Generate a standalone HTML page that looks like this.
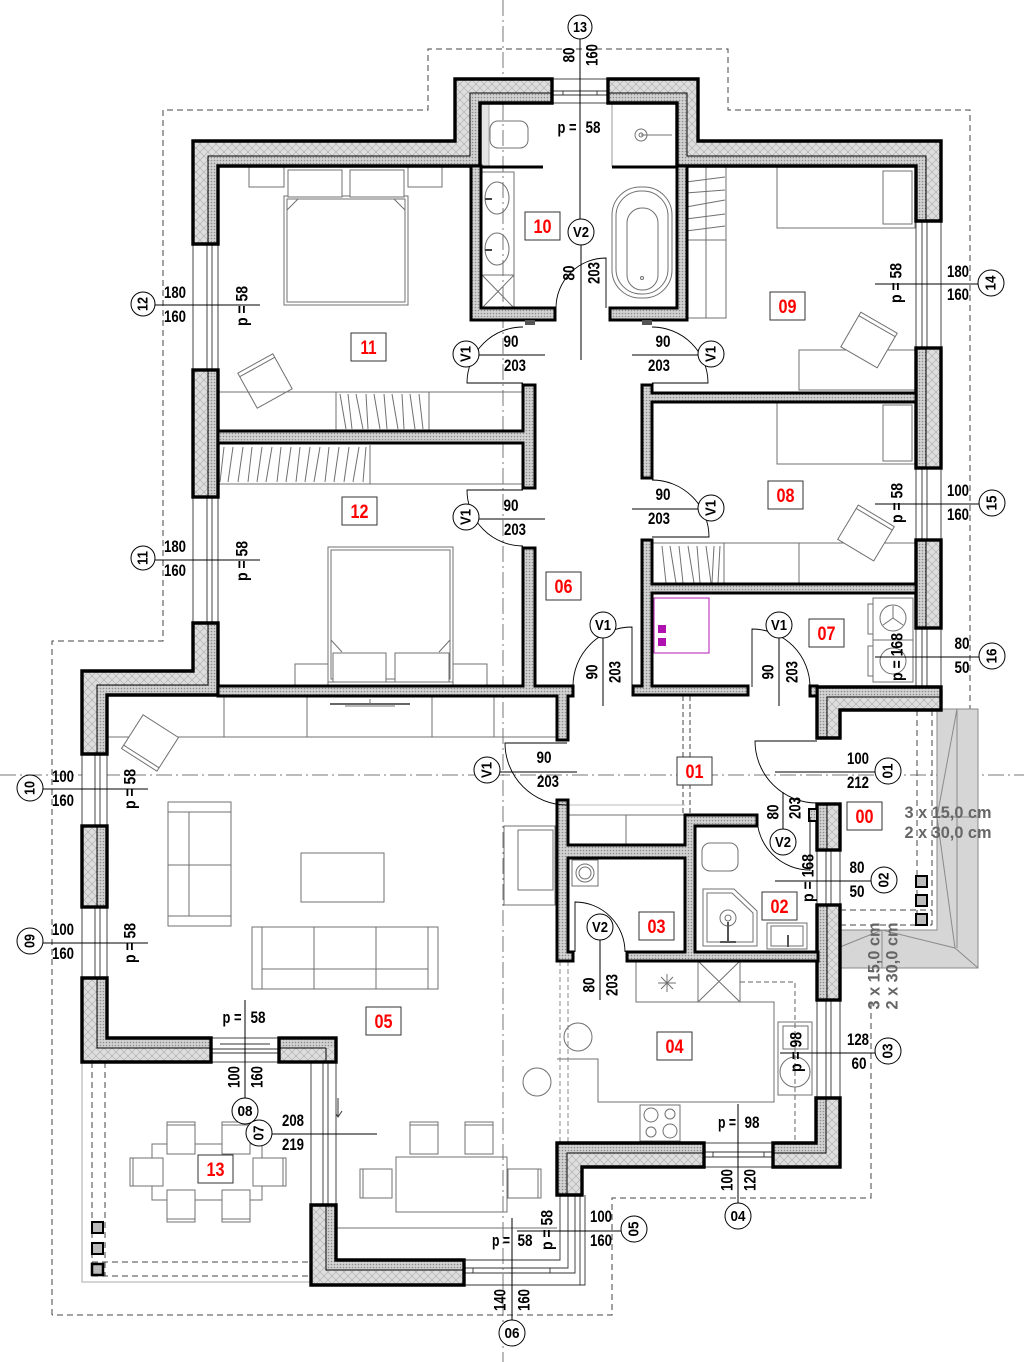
<!DOCTYPE html>
<html><head><meta charset="utf-8"><style>
html,body{margin:0;padding:0;background:#fff;}
svg{display:block}
text{font-family:"Liberation Sans Narrow","Liberation Sans",Arial,sans-serif;text-anchor:middle;}
.t{font-size:17px;fill:#000;font-weight:bold;}
.c{font-size:15px;fill:#000;font-weight:bold;}
.r{font-size:19px;fill:#ff0000;font-family:"Liberation Sans",Arial,sans-serif;font-weight:bold;}
.g{font-size:17px;fill:#666;font-family:"Liberation Sans",Arial,sans-serif;font-weight:bold;}
.f{fill:none;stroke:#707070;stroke-width:1;}
.fw{fill:#fff;stroke:#707070;stroke-width:1;}
.ln{stroke:#000;stroke-width:1;fill:none;}
.dl{fill:none;stroke:#444;stroke-width:1;stroke-dasharray:6 4;}
.ax{stroke:#777;stroke-width:1;stroke-dasharray:16 4 2 4;fill:none;}
.wo{fill:none;stroke:#000;stroke-width:3.4;stroke-linejoin:miter;}
.wm{fill:none;stroke:#000;stroke-width:1;}
.iw{fill:url(#dot);stroke:#000;stroke-width:3;stroke-linejoin:miter;}
.win{fill:#fff;stroke:#333;stroke-width:0.9;}
.wl{stroke:#333;stroke-width:0.9;}
.cir{fill:#fff;stroke:#000;stroke-width:1;}
.lb{fill:#fff;stroke:#333;stroke-width:1;}
.dr{fill:none;stroke:#000;stroke-width:0.9;}
</style></head><body>
<svg width="1024" height="1362" viewBox="0 0 1024 1362" xmlns="http://www.w3.org/2000/svg">
<defs>
<pattern id="ins" width="8" height="8" patternUnits="userSpaceOnUse">
<rect width="8" height="8" fill="#dedede"/>
<path d="M0 0L8 8M8 0L0 8" stroke="#a9a9a9" stroke-width="0.6"/>
</pattern>
<pattern id="dot" width="3" height="3" patternUnits="userSpaceOnUse">
<rect width="3" height="3" fill="#d2d2d2"/>
<circle cx="1.5" cy="1.5" r="0.8" fill="#8c8c8c"/>
</pattern>
</defs>
<rect width="1024" height="1362" fill="#fff"/>

<!-- axes -->
<line class="ax" x1="503" y1="0" x2="503" y2="1362"/>
<line class="ax" x1="0" y1="775" x2="1024" y2="775"/>

<!-- roof outline dashed -->
<path class="dl" d="M52,1315 V641 H163 V110 H428 V49 H728 V110 H970 V710"/>
<path class="dl" d="M871,1003 V1198 H612 V1315 H52"/>

<!-- stairs -->
<path d="M937,709 H978 V968 H840 V930 H937 Z" fill="#d6d6d6" stroke="#8a8a8a" stroke-width="1"/>
<path d="M957,709 L937,817 L955,948 M937,817 H978 M840,947 L882,930 L955,948 M882,930 V968 M955,948 L978,968 M957,709 V948" fill="none" stroke="#8a8a8a" stroke-width="1"/>

<!-- porch -->
<path class="dl" d="M917,710 V925 M932,710 V925 M840,910 H932 M840,925 H932"/>
<rect x="916" y="876" width="11" height="11" fill="#bbb" stroke="#000" stroke-width="2"/>
<rect x="916" y="895" width="11" height="11" fill="#bbb" stroke="#000" stroke-width="2"/>
<rect x="916" y="914" width="11" height="11" fill="#bbb" stroke="#000" stroke-width="2"/>

<!-- terrace -->
<path d="M82,1062 V1282 H311" fill="none" stroke="#aaa" stroke-width="1"/>
<path class="dl" d="M92,1062 V1276 M105,1062 V1276 M92,1262 H311 M92,1276 H311"/>
<rect x="92" y="1222" width="11" height="11" fill="#bbb" stroke="#000" stroke-width="2"/>
<rect x="92" y="1243" width="11" height="11" fill="#bbb" stroke="#000" stroke-width="2"/>
<rect x="92" y="1264" width="11" height="11" fill="#bbb" stroke="#000" stroke-width="2.5"/>

<!-- ================= FURNITURE ================= -->
<!-- bedroom 11 -->
<rect class="f" x="249" y="167" width="35" height="20"/>
<rect class="f" x="408" y="167" width="34" height="20"/>
<rect class="f" x="284" y="196" width="124" height="109"/>
<rect class="f" x="287" y="199" width="118" height="103"/>
<rect class="fw" x="288" y="170" width="54" height="27"/>
<rect class="fw" x="350" y="170" width="54" height="27"/>
<path class="f" d="M287,210 L298,199 M405,210 L394,199"/>
<g transform="translate(265,381) rotate(-29)"><rect class="f" x="-20" y="-20" width="40" height="40"/><line class="f" x1="-20" y1="-16" x2="20" y2="-16"/></g>
<line class="f" x1="218" y1="392" x2="523" y2="392"/>
<rect class="f" x="336" y="392" width="93" height="39"/>
<path class="f" d="M340,394 L346,429 M348,394 L352,429 M356,394 L363,429 M366,394 L368,429 M374,394 L380,429 M384,394 L387,429 M392,394 L398,429 M402,394 L404,429 M410,394 L415,429 M419,394 L423,429"/>

<!-- bedroom 12 -->
<line class="f" x1="218" y1="484" x2="523" y2="484"/>
<line class="f" x1="370" y1="445" x2="370" y2="484"/>
<path class="f" d="M224,447 L220,482 M233,447 L228,482 M243,447 L238,482 M252,447 L248,482 M262,447 L257,482 M272,447 L266,482 M281,447 L277,482 M291,447 L286,482 M300,447 L296,482 M310,447 L305,482 M320,447 L314,482 M329,447 L325,482 M339,447 L334,482 M349,447 L344,482 M359,447 L353,482 M366,447 L363,482"/>
<rect class="f" x="328" y="547" width="125" height="135"/>
<rect class="f" x="331" y="550" width="119" height="129"/>
<rect class="f" x="295" y="664" width="33" height="22"/>
<rect class="f" x="453" y="664" width="34" height="22"/>
<rect class="fw" x="333" y="653" width="53" height="29"/>
<rect class="fw" x="395" y="653" width="54" height="29"/>
<path class="f" d="M331,640 L342,652 M450,640 L439,652"/>

<!-- bathroom 10 -->
<rect x="480" y="103" width="9" height="63" fill="#e4e4e4" stroke="#999" stroke-width="0.8"/>
<rect class="f" x="490" y="121" width="38" height="27" rx="8"/>
<circle class="f" cx="641" cy="135" r="6"/><circle class="f" cx="641" cy="135" r="2"/>
<line class="f" x1="641" y1="135" x2="672" y2="135"/>
<line x1="612" y1="103" x2="612" y2="167" stroke="#999" stroke-width="1"/>
<rect class="f" x="482" y="172" width="32" height="136"/>
<line class="f" x1="482" y1="275" x2="514" y2="275"/>
<path class="f" d="M482,275 L514,308 M514,275 L482,308"/>
<ellipse class="f" cx="497" cy="198" rx="12" ry="16"/>
<ellipse class="f" cx="497" cy="249" rx="12" ry="16"/>
<path d="M485,199 H492 M485,250 H492" stroke="#444" stroke-width="2"/>
<rect class="f" x="612" y="187" width="60" height="111" rx="28"/>
<rect class="f" x="616" y="191" width="52" height="103" rx="25"/>
<rect class="f" x="627" y="208" width="31" height="82" rx="15"/>
<circle class="f" cx="642" cy="278" r="1.5"/>
<path d="M481,167 H543 M612,167 H677" stroke="#000" stroke-width="3"/>

<!-- bedroom 09 -->
<rect class="f" x="685" y="167" width="41" height="151"/>
<line class="f" x1="706" y1="167" x2="706" y2="318"/>
<line class="f" x1="685" y1="240" x2="726" y2="240"/>
<path class="f" d="M686,182 L725,177 M686,193 L725,190 M686,207 L725,200 M686,219 L725,214 M686,231 L725,226"/>
<rect class="f" x="777" y="167" width="138" height="61"/>
<rect class="f" x="883" y="171" width="29" height="53"/>
<rect class="f" x="799" y="350" width="117" height="40"/>
<g transform="translate(869,340) rotate(30)"><rect class="fw" x="-21" y="-20" width="42" height="40"/><line class="f" x1="-21" y1="-16" x2="21" y2="-16"/></g>

<!-- bedroom 08 -->
<rect class="f" x="777" y="402" width="138" height="62"/>
<rect class="f" x="883" y="405" width="29" height="56"/>
<rect class="f" x="652" y="543" width="264" height="41"/>
<line class="f" x1="724" y1="543" x2="724" y2="584"/>
<line class="f" x1="799" y1="543" x2="799" y2="584"/>
<path class="f" d="M662,546 L666,583 M670,546 L676,583 M679,546 L683,583 M688,546 L694,583 M697,546 L700,583 M706,546 L711,583 M714,546 L712,583 M720,546 L718,583"/>
<g transform="translate(866,533) rotate(31)"><rect class="fw" x="-21" y="-20" width="42" height="40"/><line class="f" x1="-21" y1="-16" x2="21" y2="-16"/></g>

<!-- room 07 -->
<rect x="654" y="598" width="55" height="55" fill="none" stroke="#c040c0" stroke-width="1.2"/>
<rect x="658" y="625" width="8" height="8" fill="#b010b0"/>
<rect x="658" y="638" width="8" height="8" fill="#b010b0"/>
<rect class="f" x="873" y="598" width="40" height="42"/>
<rect class="f" x="873" y="640" width="40" height="42"/>
<rect class="f" x="868" y="604" width="5" height="30"/>
<rect class="f" x="868" y="646" width="5" height="30"/>
<circle class="f" cx="893" cy="618" r="13"/>
<path class="f" d="M893,618 V606 M893,618 L883,625 M893,618 L903,625"/>
<circle class="f" cx="893" cy="661" r="13"/>

<!-- hall 01 -->
<path class="dl" d="M683,696 V815 M690,696 V815" style="stroke-dasharray:5 3"/>
<rect class="f" x="568" y="815" width="117" height="30"/>
<line class="f" x1="626" y1="815" x2="626" y2="845"/>
<line class="f" x1="568" y1="805" x2="685" y2="805" style="stroke:#bbb"/>

<!-- room 03 -->
<rect class="f" x="572" y="860" width="26" height="26"/>
<circle class="f" cx="585" cy="873" r="9"/><circle class="f" cx="585" cy="873" r="6"/>

<!-- room 02 -->
<rect class="f" x="702" y="843" width="36" height="28" rx="8"/>
<path class="f" d="M703,889 H734 L757,911 V946 H703 Z"/>
<path class="f" d="M707,893 H732 L753,913 V942 H707 Z"/>
<circle class="f" cx="728" cy="918" r="8"/><circle class="f" cx="728" cy="918" r="3"/>
<path d="M728,922 V942 M720,942 H736" stroke="#555" stroke-width="2"/>
<rect class="f" x="767" y="923" width="40" height="26"/>
<rect class="f" x="771" y="926" width="32" height="20"/>
<line x1="788" y1="935" x2="788" y2="947" stroke="#555" stroke-width="2"/>

<!-- kitchen 04 -->
<rect class="f" x="636" y="961" width="104" height="41"/>
<line class="f" x1="698" y1="961" x2="698" y2="1002"/>
<path class="f" d="M698,961 L740,1002 M740,961 L698,1002"/>
<path class="f" d="M667,974 V992 M658,983 H676 M661,977 L673,989 M673,977 L661,989"/>
<path class="f" d="M557,1059 H598 V1102 H774 V1002 H740"/>
<path class="dl" d="M740,982 H795 V1140" style="stroke-dasharray:5 3;stroke:#666"/>
<path class="dl" d="M560,961 V1143 M568,961 V1143" style="stroke-dasharray:5 3;stroke:#888"/>
<rect class="f" x="778" y="1022" width="34" height="73"/>
<rect class="f" x="783" y="1026" width="25" height="23"/>
<circle class="f" cx="795" cy="1072" r="15"/>
<rect class="f" x="640" y="1105" width="40" height="36"/>
<circle class="f" cx="651" cy="1115" r="7"/><circle class="f" cx="670" cy="1114" r="5"/>
<circle class="f" cx="651" cy="1132" r="5"/><circle class="f" cx="670" cy="1131" r="7"/>
<circle class="f" cx="578" cy="1037" r="14"/>
<circle class="f" cx="537" cy="1082" r="14"/>

<!-- living 05 -->
<line class="f" x1="107" y1="737" x2="557" y2="737"/>
<path class="f" d="M224,696 V737 M307,696 V737 M432,696 V737 M494,696 V737"/>
<path d="M330,704 H410" stroke="#666" stroke-width="2"/>
<path class="f" d="M370,699 V704 M345,706 H395"/>
<g transform="translate(150,743) rotate(32.6)"><rect class="fw" x="-21" y="-20" width="42" height="40"/><line class="f" x1="-21" y1="16" x2="21" y2="16"/></g>
<rect class="f" x="168" y="802" width="63" height="124"/>
<path class="f" d="M168,812 H231 M168,865 H231 M168,916 H231 M189,812 V916"/>
<rect class="f" x="301" y="853" width="83" height="49"/>
<rect class="f" x="252" y="927" width="186" height="62"/>
<path class="f" d="M262,927 V989 M314,927 V989 M376,927 V989 M428,927 V989 M262,969 H428"/>
<rect class="f" x="504" y="826" width="51" height="79"/>
<rect class="f" x="518" y="830" width="35" height="60"/>
<rect class="f" x="396" y="1157" width="111" height="55"/>
<rect class="f" x="410" y="1122" width="28" height="32"/>
<rect class="f" x="465" y="1122" width="28" height="32"/>
<rect class="f" x="360" y="1169" width="32" height="29"/>
<rect class="f" x="508" y="1169" width="33" height="29"/>
<path class="f" d="M410,1125 H438 M465,1125 H493 M363,1169 V1198 M538,1169 V1198"/>
<line class="f" x1="336" y1="1228" x2="557" y2="1228"/>
<path d="M338,1098 V1116 M334,1111 L338,1117 L342,1111" fill="none" stroke="#333" stroke-width="1"/>

<!-- terrace 13 furniture -->
<rect class="f" x="152" y="1144" width="110" height="56"/>
<rect class="fw" x="167" y="1122" width="28" height="32"/>
<rect class="fw" x="222" y="1122" width="28" height="32"/>
<rect class="fw" x="167" y="1190" width="28" height="32"/>
<rect class="fw" x="222" y="1190" width="28" height="32"/>
<rect class="fw" x="130" y="1158" width="33" height="28"/>
<rect class="fw" x="253" y="1158" width="33" height="28"/>
<path class="f" d="M167,1125 H195 M222,1125 H250 M167,1219 H195 M222,1219 H250 M133,1158 V1186 M283,1158 V1186"/>

<!-- ================= WINDOWS ================= -->
<g>
<rect class="win" x="193" y="244" width="25" height="126"/><path class="wl" d="M207,244 V370 M212,244 V370"/>
<rect class="win" x="193" y="497" width="25" height="126"/><path class="wl" d="M207,497 V623 M212,497 V623"/>
<rect class="win" x="82" y="754" width="25" height="72"/><path class="wl" d="M95,754 V826 M100,754 V826"/>
<rect class="win" x="82" y="907" width="25" height="71"/><path class="wl" d="M95,907 V978 M100,907 V978"/>
<rect class="win" x="211" y="1038" width="68" height="24"/><path class="wl" d="M211,1049 H279 M211,1053 H279 M220,1044 H270"/>
<rect class="win" x="552" y="79" width="56" height="24"/><path class="wl" d="M552,91 H608 M552,95 H608 M563,91 V95 M597,91 V95"/>
<rect class="win" x="916" y="221" width="25" height="127"/><path class="wl" d="M922,221 V348 M927,221 V348"/>
<rect class="win" x="916" y="468" width="25" height="72"/><path class="wl" d="M922,468 V540 M927,468 V540"/>
<rect class="win" x="916" y="628" width="25" height="59"/><path class="wl" d="M922,628 V687 M927,628 V687"/>
<rect class="win" x="817" y="850" width="23" height="55"/><path class="wl" d="M826,850 V905 M831,850 V905"/>
<rect class="win" x="817" y="1000" width="23" height="98"/><path class="wl" d="M826,1000 V1098 M831,1000 V1098"/>
<rect class="win" x="704" y="1143" width="69" height="24"/><path class="wl" d="M704,1152 H773 M704,1157 H773 M713,1152 V1157 M764,1152 V1157"/>
<rect class="win" x="311" y="1062" width="25" height="143"/><path class="wl" d="M323,1062 V1205 M328,1062 V1205"/>
<path class="wl" d="M464,1260 H560 V1195 M464,1268 H568 V1195 M464,1273 H575 V1195 M464,1285 H585 V1195 M580,1195 V1285" fill="none"/>
<path class="wl" d="M473,1268 V1273 M550,1268 V1273"/>
</g>

<!-- ================= WALLS ================= -->
<!-- W1 -->
<polygon points="193,244 193,141 455,141 455,79 552,79 552,103 480,103 480,166 218,166 218,244" fill="url(#ins)"/>
<polygon points="208,244 208,156 470,156 470,93 552,93 552,103 480,103 480,166 218,166 218,244" fill="url(#dot)"/>
<polyline class="wm" points="208,244 208,156 470,156 470,93 552,93"/>
<polygon class="wo" points="193,244 193,141 455,141 455,79 552,79 552,103 480,103 480,166 218,166 218,244"/>
<!-- W2 -->
<polygon points="608,79 698,79 698,141 941,141 941,221 916,221 916,166 677,166 677,103 608,103" fill="url(#ins)"/>
<polygon points="608,93 687,93 687,156 926,156 926,221 916,221 916,166 677,166 677,103 608,103" fill="url(#dot)"/>
<polyline class="wm" points="608,93 687,93 687,156 926,156 926,221"/>
<polygon class="wo" points="608,79 698,79 698,141 941,141 941,221 916,221 916,166 677,166 677,103 608,103"/>
<!-- W3 W4 -->
<rect x="916" y="348" width="25" height="120" fill="url(#ins)"/><rect x="916" y="348" width="10" height="120" fill="url(#dot)"/><line class="wm" x1="926" y1="348" x2="926" y2="468"/><rect class="wo" x="916" y="348" width="25" height="120"/>
<rect x="916" y="540" width="25" height="88" fill="url(#ins)"/><rect x="916" y="540" width="10" height="88" fill="url(#dot)"/><line class="wm" x1="926" y1="540" x2="926" y2="628"/><rect class="wo" x="916" y="540" width="25" height="88"/>
<!-- W5 -->
<polygon points="817,738 817,687 941,687 941,710 840,710 840,738" fill="url(#ins)"/>
<polygon points="817,738 817,687 941,687 941,697 827,697 827,738" fill="url(#dot)"/>
<polyline class="wm" points="827,738 827,697 941,697"/>
<polygon class="wo" points="817,738 817,687 941,687 941,710 840,710 840,738"/>
<!-- W6 W7 -->
<rect x="817" y="804" width="23" height="46" fill="url(#ins)"/><rect x="817" y="804" width="10" height="46" fill="url(#dot)"/><line class="wm" x1="827" y1="804" x2="827" y2="850"/><rect class="wo" x="817" y="804" width="23" height="46"/>
<rect x="809" y="809" width="8" height="12" fill="url(#dot)" stroke="#000" stroke-width="2"/>
<rect x="817" y="905" width="23" height="95" fill="url(#ins)"/><rect x="817" y="905" width="10" height="95" fill="url(#dot)"/><line class="wm" x1="827" y1="905" x2="827" y2="1000"/><rect class="wo" x="817" y="905" width="23" height="95"/>
<!-- W8 -->
<polygon points="816,1098 840,1098 840,1167 773,1167 773,1143 816,1143" fill="url(#ins)"/>
<polygon points="816,1098 826,1098 826,1153 773,1153 773,1143 816,1143" fill="url(#dot)"/>
<polyline class="wm" points="826,1098 826,1153 773,1153"/>
<polygon class="wo" points="816,1098 840,1098 840,1167 773,1167 773,1143 816,1143"/>
<!-- W9 -->
<polygon points="704,1143 557,1143 557,1195 582,1195 582,1167 704,1167" fill="url(#ins)"/>
<polygon points="704,1143 557,1143 557,1195 567,1195 567,1153 704,1153" fill="url(#dot)"/>
<polyline class="wm" points="567,1195 567,1153 704,1153"/>
<polygon class="wo" points="704,1143 557,1143 557,1195 582,1195 582,1167 704,1167"/>
<!-- W10 -->
<polygon points="311,1205 336,1205 336,1260 464,1260 464,1285 311,1285" fill="url(#ins)"/>
<polygon points="326,1205 336,1205 336,1260 464,1260 464,1270 326,1270" fill="url(#dot)"/>
<polyline class="wm" points="326,1205 326,1270 464,1270"/>
<polygon class="wo" points="311,1205 336,1205 336,1260 464,1260 464,1285 311,1285"/>
<!-- W11 -->
<polygon points="82,978 107,978 107,1038 211,1038 211,1062 82,1062" fill="url(#ins)"/>
<polygon points="97,978 107,978 107,1038 211,1038 211,1048 97,1048" fill="url(#dot)"/>
<polyline class="wm" points="97,978 97,1048 211,1048"/>
<polygon class="wo" points="82,978 107,978 107,1038 211,1038 211,1062 82,1062"/>
<!-- W12 -->
<rect x="279" y="1038" width="57" height="24" fill="url(#ins)"/><rect x="279" y="1038" width="57" height="10" fill="url(#dot)"/><line class="wm" x1="279" y1="1048" x2="326" y2="1048"/><line class="wm" x1="326" y1="1048" x2="326" y2="1062"/><rect class="wo" x="279" y="1038" width="57" height="24"/>
<!-- W13 -->
<rect x="82" y="826" width="25" height="81" fill="url(#ins)"/><rect x="97" y="826" width="10" height="81" fill="url(#dot)"/><line class="wm" x1="97" y1="826" x2="97" y2="907"/><rect class="wo" x="82" y="826" width="25" height="81"/>
<!-- W14 -->
<polygon points="82,754 82,671 193,671 193,623 218,623 218,695 107,695 107,754" fill="url(#ins)"/>
<polygon points="97,754 97,685 208,685 208,623 218,623 218,695 107,695 107,754" fill="url(#dot)"/>
<polyline class="wm" points="97,754 97,685 208,685 208,623"/>
<polygon class="wo" points="82,754 82,671 193,671 193,623 218,623 218,695 107,695 107,754"/>
<!-- W15 -->
<rect x="193" y="370" width="25" height="127" fill="url(#ins)"/><rect x="208" y="370" width="10" height="127" fill="url(#dot)"/><line class="wm" x1="208" y1="370" x2="208" y2="497"/><rect class="wo" x="193" y="370" width="25" height="127"/>

<!-- interior walls -->
<polygon class="iw" points="471,166 481,166 481,308 555,308 555,320 471,320"/>
<polygon class="iw" points="677,166 687,166 687,320 610,320 610,308 677,308"/>
<rect x="525" y="320" width="10" height="5" fill="#555"/>
<rect x="642" y="320" width="10" height="5" fill="#555"/>
<polygon class="iw" points="218,431 523,431 523,385 535,385 535,488 523,488 523,443 218,443"/>
<polygon class="iw" points="218,686 523,686 523,548 535,548 535,686 573,686 573,696 568,696 568,740 557,740 557,696 218,696"/>
<polygon class="iw" points="642,385 652,385 652,393 916,393 916,402 652,402 652,478 642,478"/>
<polygon class="iw" points="642,540 652,540 652,584 916,584 916,593 652,593 652,686 748,686 748,695 633,695 633,686 642,686"/>
<rect class="iw" x="810" y="686" width="7" height="10"/>
<polygon class="iw" points="557,800 568,800 568,845 685,845 685,815 757,815 757,826 695,826 695,952 818,952 818,961 627,961 627,952 685,952 685,858 568,858 568,952 573,952 573,961 557,961"/>

<!-- ================= DOORS ================= -->
<path class="dr" d="M556,308 A50,50 0 0 1 606,258 V308"/>
<path class="dr" d="M523,383 H467 A56,56 0 0 1 523,327"/>
<path class="dr" d="M523,490 H467 A56,56 0 0 0 523,546"/>
<path class="dr" d="M652,383 H708 A56,56 0 0 0 652,327"/>
<path class="dr" d="M652,480 A57,57 0 0 1 709,537 H652"/>
<path class="dr" d="M573,686 A59,59 0 0 1 632,627 V686"/>
<path class="dr" d="M810,687 A58,58 0 0 0 752,629 V687"/>
<path class="dr" d="M567,743 H505 A62,62 0 0 0 567,805"/>
<path class="dr" d="M817,741 H755 A62,62 0 0 0 817,803"/>
<path class="dr" d="M757,817 A53,53 0 0 0 810,870 V817"/>
<path class="dr" d="M625,952 A50,50 0 0 0 575,902 V952"/>

<!-- ================= DIMENSIONS ================= -->
<!-- left -->
<line class="ln" x1="155" y1="305" x2="260" y2="305"/>
<circle class="cir" cx="143" cy="304" r="12"/>
<text class="c" x="143" y="304" dominant-baseline="central" transform="rotate(-90 143 304)" textLength="14" lengthAdjust="spacingAndGlyphs">12</text>
<text class="t" x="175" y="298" textLength="22" lengthAdjust="spacingAndGlyphs">180</text>
<text class="t" x="175" y="322" textLength="22" lengthAdjust="spacingAndGlyphs">160</text>
<text class="t" x="242" y="306" dominant-baseline="central" transform="rotate(-90 242 306)" textLength="40" lengthAdjust="spacingAndGlyphs">p = 58</text>

<line class="ln" x1="155" y1="560" x2="260" y2="560"/>
<circle class="cir" cx="143" cy="558" r="12"/>
<text class="c" x="143" y="558" dominant-baseline="central" transform="rotate(-90 143 558)" textLength="14" lengthAdjust="spacingAndGlyphs">11</text>
<text class="t" x="175" y="552" textLength="22" lengthAdjust="spacingAndGlyphs">180</text>
<text class="t" x="175" y="576" textLength="22" lengthAdjust="spacingAndGlyphs">160</text>
<text class="t" x="242" y="561" dominant-baseline="central" transform="rotate(-90 242 561)" textLength="40" lengthAdjust="spacingAndGlyphs">p = 58</text>

<line class="ln" x1="42" y1="789" x2="148" y2="789"/>
<circle class="cir" cx="30" cy="788" r="13"/>
<text class="c" x="30" y="788" dominant-baseline="central" transform="rotate(-90 30 788)" textLength="14" lengthAdjust="spacingAndGlyphs">10</text>
<text class="t" x="63" y="782" textLength="22" lengthAdjust="spacingAndGlyphs">100</text>
<text class="t" x="63" y="806" textLength="22" lengthAdjust="spacingAndGlyphs">160</text>
<text class="t" x="130" y="789" dominant-baseline="central" transform="rotate(-90 130 789)" textLength="40" lengthAdjust="spacingAndGlyphs">p = 58</text>

<line class="ln" x1="42" y1="943" x2="148" y2="943"/>
<circle class="cir" cx="30" cy="941" r="13"/>
<text class="c" x="30" y="941" dominant-baseline="central" transform="rotate(-90 30 941)" textLength="14" lengthAdjust="spacingAndGlyphs">09</text>
<text class="t" x="63" y="935" textLength="22" lengthAdjust="spacingAndGlyphs">100</text>
<text class="t" x="63" y="959" textLength="22" lengthAdjust="spacingAndGlyphs">160</text>
<text class="t" x="130" y="943" dominant-baseline="central" transform="rotate(-90 130 943)" textLength="40" lengthAdjust="spacingAndGlyphs">p = 58</text>

<!-- bottom left 08/07 -->
<line class="ln" x1="245" y1="1000" x2="245" y2="1099"/>
<text class="t" x="232" y="1023" textLength="19" lengthAdjust="spacingAndGlyphs">p =</text>
<text class="t" x="258" y="1023" textLength="15" lengthAdjust="spacingAndGlyphs">58</text>
<text class="t" x="234" y="1077" dominant-baseline="central" transform="rotate(-90 234 1077)" textLength="22" lengthAdjust="spacingAndGlyphs">100</text>
<text class="t" x="257" y="1077" dominant-baseline="central" transform="rotate(-90 257 1077)" textLength="22" lengthAdjust="spacingAndGlyphs">160</text>
<line class="ln" x1="272" y1="1134" x2="377" y2="1134"/>
<circle class="cir" cx="245" cy="1111" r="13"/>
<text class="c" x="245" y="1116" textLength="15" lengthAdjust="spacingAndGlyphs">08</text>
<circle class="cir" cx="259" cy="1133" r="13"/>
<text class="c" x="259" y="1133" dominant-baseline="central" transform="rotate(-90 259 1133)" textLength="15" lengthAdjust="spacingAndGlyphs">07</text>
<text class="t" x="293" y="1126" textLength="22" lengthAdjust="spacingAndGlyphs">208</text>
<text class="t" x="293" y="1150" textLength="22" lengthAdjust="spacingAndGlyphs">219</text>

<!-- bottom 06 / 05 -->
<line class="ln" x1="512" y1="1218" x2="512" y2="1320"/>
<circle class="cir" cx="512" cy="1333" r="13"/>
<text class="c" x="512" y="1338" textLength="15" lengthAdjust="spacingAndGlyphs">06</text>
<text class="t" x="500" y="1300" dominant-baseline="central" transform="rotate(-90 500 1300)" textLength="22" lengthAdjust="spacingAndGlyphs">140</text>
<text class="t" x="524" y="1300" dominant-baseline="central" transform="rotate(-90 524 1300)" textLength="22" lengthAdjust="spacingAndGlyphs">160</text>
<text class="t" x="501" y="1246" textLength="18" lengthAdjust="spacingAndGlyphs">p =</text>
<text class="t" x="525" y="1246" textLength="15" lengthAdjust="spacingAndGlyphs">58</text>
<line class="ln" x1="517" y1="1231" x2="622" y2="1231"/>
<text class="t" x="547" y="1230" dominant-baseline="central" transform="rotate(-90 547 1230)" textLength="40" lengthAdjust="spacingAndGlyphs">p = 58</text>
<text class="t" x="601" y="1222" textLength="22" lengthAdjust="spacingAndGlyphs">100</text>
<text class="t" x="601" y="1246" textLength="22" lengthAdjust="spacingAndGlyphs">160</text>
<circle class="cir" cx="634" cy="1229" r="13"/>
<text class="c" x="634" y="1229" dominant-baseline="central" transform="rotate(-90 634 1229)" textLength="15" lengthAdjust="spacingAndGlyphs">05</text>

<!-- 04 -->
<line class="ln" x1="738" y1="1104" x2="738" y2="1203"/>
<circle class="cir" cx="738" cy="1216" r="13"/>
<text class="c" x="738" y="1221" textLength="15" lengthAdjust="spacingAndGlyphs">04</text>
<text class="t" x="727" y="1180" dominant-baseline="central" transform="rotate(-90 727 1180)" textLength="22" lengthAdjust="spacingAndGlyphs">100</text>
<text class="t" x="750" y="1180" dominant-baseline="central" transform="rotate(-90 750 1180)" textLength="22" lengthAdjust="spacingAndGlyphs">120</text>
<text class="t" x="727" y="1128" textLength="18" lengthAdjust="spacingAndGlyphs">p =</text>
<text class="t" x="752" y="1128" textLength="15" lengthAdjust="spacingAndGlyphs">98</text>

<!-- right 03 02 01 -->
<line class="ln" x1="780" y1="1053" x2="876" y2="1053"/>
<circle class="cir" cx="888" cy="1051" r="13"/>
<text class="c" x="888" y="1051" dominant-baseline="central" transform="rotate(-90 888 1051)" textLength="15" lengthAdjust="spacingAndGlyphs">03</text>
<text class="t" x="858" y="1045" textLength="22" lengthAdjust="spacingAndGlyphs">128</text>
<text class="t" x="859" y="1069" textLength="15" lengthAdjust="spacingAndGlyphs">60</text>
<text class="t" x="796" y="1052" dominant-baseline="central" transform="rotate(-90 796 1052)" textLength="40" lengthAdjust="spacingAndGlyphs">p = 98</text>

<line class="ln" x1="775" y1="881" x2="872" y2="881"/>
<circle class="cir" cx="884" cy="880" r="13"/>
<text class="c" x="884" y="880" dominant-baseline="central" transform="rotate(-90 884 880)" textLength="15" lengthAdjust="spacingAndGlyphs">02</text>
<text class="t" x="857" y="873" textLength="15" lengthAdjust="spacingAndGlyphs">80</text>
<text class="t" x="857" y="897" textLength="15" lengthAdjust="spacingAndGlyphs">50</text>
<text class="t" x="808" y="878" dominant-baseline="central" transform="rotate(-90 808 878)" textLength="48" lengthAdjust="spacingAndGlyphs">p = 168</text>

<line class="ln" x1="775" y1="772" x2="876" y2="772"/>
<circle class="cir" cx="888" cy="771" r="13"/>
<text class="c" x="888" y="771" dominant-baseline="central" transform="rotate(-90 888 771)" textLength="15" lengthAdjust="spacingAndGlyphs">01</text>
<text class="t" x="858" y="764" textLength="22" lengthAdjust="spacingAndGlyphs">100</text>
<text class="t" x="858" y="788" textLength="22" lengthAdjust="spacingAndGlyphs">212</text>

<!-- entry V2 -->
<line class="ln" x1="783" y1="792" x2="783" y2="829"/>
<text class="t" x="773" y="812" dominant-baseline="central" transform="rotate(-90 773 812)" textLength="15" lengthAdjust="spacingAndGlyphs">80</text>
<text class="t" x="795" y="808" dominant-baseline="central" transform="rotate(-90 795 808)" textLength="22" lengthAdjust="spacingAndGlyphs">203</text>
<circle class="cir" cx="783" cy="842" r="13"/>
<text class="c" x="783" y="847" textLength="16" lengthAdjust="spacingAndGlyphs">V2</text>

<!-- right upper -->
<line class="ln" x1="875" y1="284" x2="979" y2="284"/>
<circle class="cir" cx="991" cy="283" r="13"/>
<text class="c" x="991" y="283" dominant-baseline="central" transform="rotate(-90 991 283)" textLength="15" lengthAdjust="spacingAndGlyphs">14</text>
<text class="t" x="958" y="277" textLength="22" lengthAdjust="spacingAndGlyphs">180</text>
<text class="t" x="958" y="300" textLength="22" lengthAdjust="spacingAndGlyphs">160</text>
<text class="t" x="896" y="283" dominant-baseline="central" transform="rotate(-90 896 283)" textLength="40" lengthAdjust="spacingAndGlyphs">p = 58</text>

<line class="ln" x1="875" y1="504" x2="980" y2="504"/>
<circle class="cir" cx="992" cy="503" r="13"/>
<text class="c" x="992" y="503" dominant-baseline="central" transform="rotate(-90 992 503)" textLength="15" lengthAdjust="spacingAndGlyphs">15</text>
<text class="t" x="958" y="496" textLength="22" lengthAdjust="spacingAndGlyphs">100</text>
<text class="t" x="958" y="520" textLength="22" lengthAdjust="spacingAndGlyphs">160</text>
<text class="t" x="897" y="503" dominant-baseline="central" transform="rotate(-90 897 503)" textLength="40" lengthAdjust="spacingAndGlyphs">p = 58</text>

<line class="ln" x1="875" y1="657" x2="980" y2="657"/>
<circle class="cir" cx="992" cy="656" r="13"/>
<text class="c" x="992" y="656" dominant-baseline="central" transform="rotate(-90 992 656)" textLength="15" lengthAdjust="spacingAndGlyphs">16</text>
<text class="t" x="962" y="649" textLength="15" lengthAdjust="spacingAndGlyphs">80</text>
<text class="t" x="962" y="673" textLength="15" lengthAdjust="spacingAndGlyphs">50</text>
<text class="t" x="897" y="657" dominant-baseline="central" transform="rotate(-90 897 657)" textLength="48" lengthAdjust="spacingAndGlyphs">p = 168</text>

<!-- top 13 -->
<line class="ln" x1="580" y1="39" x2="580" y2="219"/>
<line class="ln" x1="581" y1="245" x2="581" y2="360"/>
<circle class="cir" cx="580" cy="27" r="12"/>
<text class="c" x="580" y="32" textLength="14" lengthAdjust="spacingAndGlyphs">13</text>
<text class="t" x="569" y="55" dominant-baseline="central" transform="rotate(-90 569 55)" textLength="15" lengthAdjust="spacingAndGlyphs">80</text>
<text class="t" x="592" y="55" dominant-baseline="central" transform="rotate(-90 592 55)" textLength="22" lengthAdjust="spacingAndGlyphs">160</text>
<text class="t" x="567" y="133" textLength="19" lengthAdjust="spacingAndGlyphs">p =</text>
<text class="t" x="593" y="133" textLength="15" lengthAdjust="spacingAndGlyphs">58</text>

<!-- bathroom V2 -->
<circle class="cir" cx="581" cy="232" r="13"/>
<text class="c" x="581" y="237" textLength="16" lengthAdjust="spacingAndGlyphs">V2</text>
<text class="t" x="569" y="273" dominant-baseline="central" transform="rotate(-90 569 273)" textLength="15" lengthAdjust="spacingAndGlyphs">80</text>
<text class="t" x="594" y="273" dominant-baseline="central" transform="rotate(-90 594 273)" textLength="22" lengthAdjust="spacingAndGlyphs">203</text>

<!-- door V1 labels -->
<line class="ln" x1="478" y1="355" x2="545" y2="355"/>
<circle class="cir" cx="466" cy="354" r="13"/>
<text class="c" x="466" y="354" dominant-baseline="central" transform="rotate(-90 466 354)" textLength="16" lengthAdjust="spacingAndGlyphs">V1</text>
<text class="t" x="511" y="347" textLength="15" lengthAdjust="spacingAndGlyphs">90</text>
<text class="t" x="515" y="371" textLength="22" lengthAdjust="spacingAndGlyphs">203</text>

<line class="ln" x1="632" y1="355" x2="699" y2="355"/>
<circle class="cir" cx="711" cy="354" r="13"/>
<text class="c" x="711" y="354" dominant-baseline="central" transform="rotate(-90 711 354)" textLength="16" lengthAdjust="spacingAndGlyphs">V1</text>
<text class="t" x="663" y="347" textLength="15" lengthAdjust="spacingAndGlyphs">90</text>
<text class="t" x="659" y="371" textLength="22" lengthAdjust="spacingAndGlyphs">203</text>

<line class="ln" x1="478" y1="519" x2="545" y2="519"/>
<circle class="cir" cx="466" cy="517" r="13"/>
<text class="c" x="466" y="517" dominant-baseline="central" transform="rotate(-90 466 517)" textLength="16" lengthAdjust="spacingAndGlyphs">V1</text>
<text class="t" x="511" y="511" textLength="15" lengthAdjust="spacingAndGlyphs">90</text>
<text class="t" x="515" y="535" textLength="22" lengthAdjust="spacingAndGlyphs">203</text>

<line class="ln" x1="632" y1="509" x2="699" y2="509"/>
<circle class="cir" cx="711" cy="508" r="13"/>
<text class="c" x="711" y="508" dominant-baseline="central" transform="rotate(-90 711 508)" textLength="16" lengthAdjust="spacingAndGlyphs">V1</text>
<text class="t" x="663" y="500" textLength="15" lengthAdjust="spacingAndGlyphs">90</text>
<text class="t" x="659" y="524" textLength="22" lengthAdjust="spacingAndGlyphs">203</text>

<line class="ln" x1="603" y1="638" x2="603" y2="706"/>
<circle class="cir" cx="603" cy="625" r="13"/>
<text class="c" x="603" y="630" textLength="16" lengthAdjust="spacingAndGlyphs">V1</text>
<text class="t" x="592" y="672" dominant-baseline="central" transform="rotate(-90 592 672)" textLength="15" lengthAdjust="spacingAndGlyphs">90</text>
<text class="t" x="615" y="672" dominant-baseline="central" transform="rotate(-90 615 672)" textLength="22" lengthAdjust="spacingAndGlyphs">203</text>

<line class="ln" x1="779" y1="638" x2="779" y2="706"/>
<circle class="cir" cx="779" cy="625" r="13"/>
<text class="c" x="779" y="630" textLength="16" lengthAdjust="spacingAndGlyphs">V1</text>
<text class="t" x="768" y="672" dominant-baseline="central" transform="rotate(-90 768 672)" textLength="15" lengthAdjust="spacingAndGlyphs">90</text>
<text class="t" x="792" y="672" dominant-baseline="central" transform="rotate(-90 792 672)" textLength="22" lengthAdjust="spacingAndGlyphs">203</text>

<line class="ln" x1="500" y1="772" x2="577" y2="772"/>
<circle class="cir" cx="487" cy="770" r="13"/>
<text class="c" x="487" y="770" dominant-baseline="central" transform="rotate(-90 487 770)" textLength="16" lengthAdjust="spacingAndGlyphs">V1</text>
<text class="t" x="544" y="763" textLength="15" lengthAdjust="spacingAndGlyphs">90</text>
<text class="t" x="548" y="787" textLength="22" lengthAdjust="spacingAndGlyphs">203</text>

<line class="ln" x1="600" y1="940" x2="600" y2="1000"/>
<circle class="cir" cx="600" cy="927" r="13"/>
<text class="c" x="600" y="932" textLength="16" lengthAdjust="spacingAndGlyphs">V2</text>
<text class="t" x="589" y="985" dominant-baseline="central" transform="rotate(-90 589 985)" textLength="15" lengthAdjust="spacingAndGlyphs">80</text>
<text class="t" x="612" y="985" dominant-baseline="central" transform="rotate(-90 612 985)" textLength="22" lengthAdjust="spacingAndGlyphs">203</text>

<!-- stairs text -->
<text class="g" x="948" y="818" textLength="87" lengthAdjust="spacingAndGlyphs">3 x 15,0 cm</text>
<text class="g" x="948" y="838" textLength="87" lengthAdjust="spacingAndGlyphs">2 x 30,0 cm</text>
<text class="g" x="874" y="966" dominant-baseline="central" transform="rotate(-90 874 966)" textLength="87" lengthAdjust="spacingAndGlyphs">3 x 15,0 cm</text>
<text class="g" x="892" y="966" dominant-baseline="central" transform="rotate(-90 892 966)" textLength="87" lengthAdjust="spacingAndGlyphs">2 x 30,0 cm</text>

<!-- ================= ROOM LABELS ================= -->
<rect class="lb" x="351" y="333" width="35" height="28"/><text class="r" x="368.5" y="354" textLength="16" lengthAdjust="spacingAndGlyphs">11</text>
<rect class="lb" x="525" y="212" width="35" height="28"/><text class="r" x="542.5" y="233" textLength="18" lengthAdjust="spacingAndGlyphs">10</text>
<rect class="lb" x="770" y="292" width="35" height="28"/><text class="r" x="787.5" y="313" textLength="18" lengthAdjust="spacingAndGlyphs">09</text>
<rect class="lb" x="342" y="497" width="35" height="28"/><text class="r" x="359.5" y="518" textLength="18" lengthAdjust="spacingAndGlyphs">12</text>
<rect class="lb" x="768" y="481" width="35" height="28"/><text class="r" x="785.5" y="502" textLength="18" lengthAdjust="spacingAndGlyphs">08</text>
<rect class="lb" x="546" y="572" width="35" height="28"/><text class="r" x="563.5" y="593" textLength="18" lengthAdjust="spacingAndGlyphs">06</text>
<rect class="lb" x="809" y="619" width="35" height="28"/><text class="r" x="826.5" y="640" textLength="18" lengthAdjust="spacingAndGlyphs">07</text>
<rect class="lb" x="677" y="757" width="35" height="28"/><text class="r" x="694.5" y="778" textLength="18" lengthAdjust="spacingAndGlyphs">01</text>
<rect class="lb" x="847" y="802" width="35" height="28"/><text class="r" x="864.5" y="823" textLength="18" lengthAdjust="spacingAndGlyphs">00</text>
<rect class="lb" x="762" y="892" width="35" height="28"/><text class="r" x="779.5" y="913" textLength="18" lengthAdjust="spacingAndGlyphs">02</text>
<rect class="lb" x="639" y="912" width="35" height="28"/><text class="r" x="656.5" y="933" textLength="18" lengthAdjust="spacingAndGlyphs">03</text>
<rect class="lb" x="366" y="1007" width="35" height="28"/><text class="r" x="383.5" y="1028" textLength="18" lengthAdjust="spacingAndGlyphs">05</text>
<rect class="lb" x="657" y="1032" width="35" height="28"/><text class="r" x="674.5" y="1053" textLength="18" lengthAdjust="spacingAndGlyphs">04</text>
<rect class="lb" x="198" y="1155" width="35" height="28"/><text class="r" x="215.5" y="1176" textLength="18" lengthAdjust="spacingAndGlyphs">13</text>
</svg>
</body></html>
